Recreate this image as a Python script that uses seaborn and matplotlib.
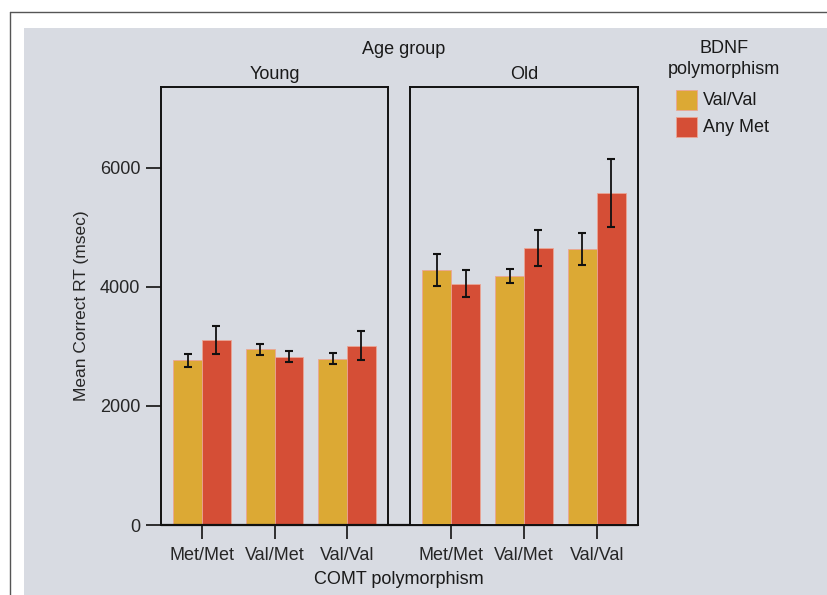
import pandas as pd
import seaborn as sns
import matplotlib.pyplot as plt
from matplotlib.patches import Rectangle
from matplotlib.lines import Line2D

# values (msec)
comt = ["Met/Met", "Val/Met", "Val/Val"]
bdnf = ["Val/Val", "Any Met"]
young_valval = [2770, 2950, 2795]
young_anymet = [3110, 2830, 3010]
young_valval_err = [110, 85, 90]
young_anymet_err = [240, 87, 245]
old_valval = [4290, 4185, 4635]
old_anymet = [4055, 4650, 5580]
old_valval_err = [270, 118, 270]
old_anymet_err = [230, 300, 575]

colors = ["#DCA934", "#D54E36"]
bg = "#D8DBE2"

rows = []
for age, vv, am, vve, ame in [
    ("Young", young_valval, young_anymet, young_valval_err, young_anymet_err),
    ("Old", old_valval, old_anymet, old_valval_err, old_anymet_err),
]:
    for i, c in enumerate(comt):
        rows.append([age, c, "Val/Val", vv[i], vve[i]])
        rows.append([age, c, "Any Met", am[i], ame[i]])
df = pd.DataFrame(rows, columns=["age", "comt", "bdnf", "rt", "err"])

sns.set_style("white")
plt.rcParams["font.family"] = ["Liberation Sans", "DejaVu Sans"]
plt.rcParams["text.color"] = "#1a1a1a"

fig = plt.figure(figsize=(8.27, 5.95), dpi=100)
fig.patch.set_facecolor("white")
W, H = 827, 595

# thin frame + grey panel
fig.add_artist(Line2D([10 / W, 1], [1 - 12 / H, 1 - 12 / H], color="#555555", lw=1))
fig.add_artist(Line2D([10 / W, 10 / W], [0, 1 - 12 / H], color="#555555", lw=1))
fig.patches.append(Rectangle((24 / W, 0), 1, 1 - 28 / H, transform=fig.transFigure,
                             facecolor=bg, edgecolor="none", zorder=-1))

bottom = (H - 525) / H
height = (525 - 87) / H
ax_y = fig.add_axes([161 / W, bottom, (388 - 161) / W, height])
ax_o = fig.add_axes([410 / W, bottom, (638 - 410) / W, height])

for ax, age in [(ax_y, "Young"), (ax_o, "Old")]:
    sub = df[df["age"] == age]
    sns.barplot(data=sub, x="comt", y="rt", hue="bdnf", order=comt, hue_order=bdnf,
                palette=colors, saturation=1, errorbar=None, width=0.79, ax=ax,
                legend=False, edgecolor="#eba595", linewidth=0.6)
    # error bars at bar centres
    for j, h in enumerate(bdnf):
        bars = ax.containers[j]
        vals = sub[sub["bdnf"] == h].set_index("comt").loc[comt]
        xs = [p.get_x() + p.get_width() / 2 for p in bars.patches]
        ax.errorbar(xs, vals["rt"], yerr=vals["err"], fmt="none", ecolor="#111111",
                    elinewidth=1.3, capsize=3, capthick=1.5)
    ax.set_facecolor(bg)
    ax.set_xlim(-0.566, 2.566)
    ax.set_ylim(0, 7360)
    for s in ax.spines.values():
        s.set_color("#111111")
        s.set_linewidth(1.4)
    ax.set_xlabel("")
    ax.set_ylabel("")
    ax.tick_params(axis="x", bottom=True, length=10, width=1.2, color="#111111",
                   labelsize=13, pad=6)
    ax.set_title(age, fontsize=13, pad=6)

ax_y.set_yticks([0, 2000, 4000, 6000])
ax_y.tick_params(axis="y", left=True, length=11, width=1.2, color="#111111",
                 labelsize=13, pad=4)
ax_y.set_ylabel("Mean Correct RT (msec)", fontsize=12.5, labelpad=8)
ax_o.set_yticks([])

# continuous baseline across both panels
x_end = (638 - 161) / (388 - 161)
ax_y.plot([0, x_end], [0, 0], transform=ax_y.transAxes, color="#111111", lw=1.6,
          clip_on=False, zorder=5)

fig.text(404 / W, 1 - 49 / H, "Age group", ha="center", va="center", fontsize=13)
fig.text(399 / W, 1 - 579 / H, "COMT polymorphism", ha="center", va="center", fontsize=13)

# legend
fig.text(724 / W, 1 - 59 / H, "BDNF\npolymorphism", ha="center", va="center",
         fontsize=13, linespacing=1.25)
for k, (lab, col) in enumerate(zip(bdnf, colors)):
    y0 = 90 + k * 27
    fig.patches.append(Rectangle((676 / W, 1 - (y0 + 20) / H), 21 / W, 20 / H,
                                 transform=fig.transFigure, facecolor=col,
                                 edgecolor="#eba595", lw=0.6))
    fig.text(703 / W, 1 - (y0 + 10) / H, lab, ha="left", va="center", fontsize=13)

fig.savefig("out.png", dpi=100)
